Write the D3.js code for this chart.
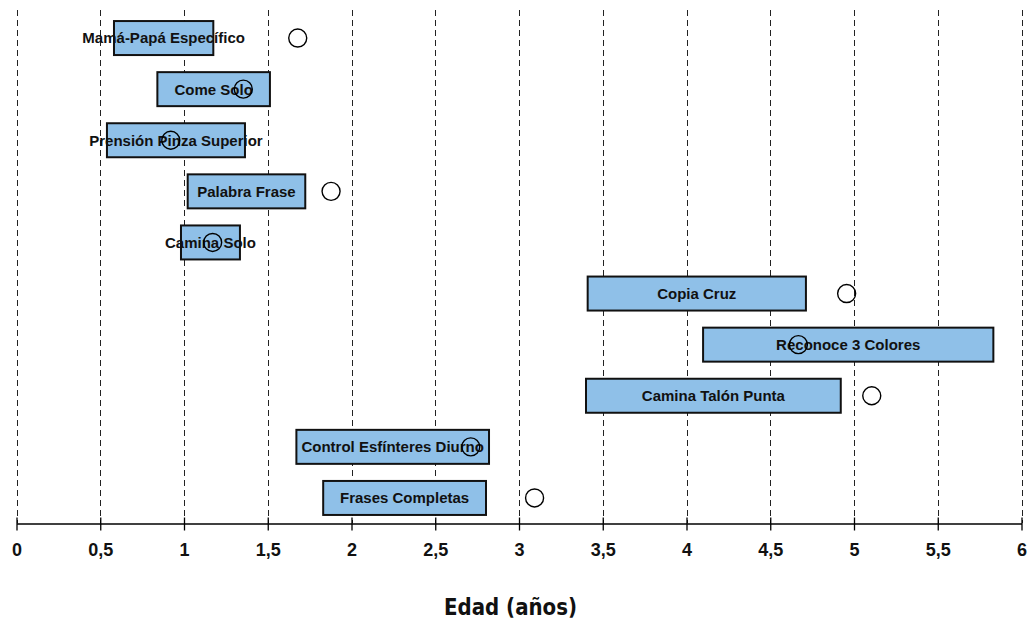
<!DOCTYPE html>
<html><head><meta charset="utf-8">
<script src="https://cdn.jsdelivr.net/npm/d3@7"></script>
<style>body{margin:0;background:#fff}svg{display:block}</style>
</head><body>
<svg id="c" width="1028" height="621"></svg>
<script>
const categories = ["Mamá-Papá Específico","Come Solo","Prensión Pinza Superior","Palabra Frase","Camina Solo","Copia Cruz","Reconoce 3 Colores","Camina Talón Punta","Control Esfínteres Diurno","Frases Completas"];
const startAge = [0.582,0.841,0.540,1.022,0.982,3.410,4.099,3.400,1.671,1.831];
const endAge   = [1.175,1.513,1.364,1.724,1.334,4.713,5.832,4.921,2.821,2.803];
const pointAge = [1.679,1.354,0.921,1.878,1.171,4.956,4.668,5.106,2.712,3.093];
const tickValues = [0,0.5,1,1.5,2,2.5,3,3.5,4,4.5,5,5.5,6];
const tickLabels = ["0","0,5","1","1,5","2","2,5","3","3,5","4","4,5","5","5,5","6"];
const xTitle = "Edad (años)";

const rows = categories.map((c,i)=>({c, s:startAge[i], e:endAge[i], p:pointAge[i]}));
const svg = d3.select("#c");
const x = d3.scaleLinear().domain([0,6]).range([16.5,1021.5]);
const y = d3.scaleBand().domain(categories).range([12.5,523.5]).padding(0);
const axisY = 523;

// gridlines
svg.append("g").selectAll("line").data(tickValues).join("line")
  .attr("x1",d=>Math.round(x(d))+0.5).attr("x2",d=>Math.round(x(d))+0.5)
  .attr("y1",10).attr("y2",axisY)
  .attr("stroke","#222").attr("stroke-width",1).attr("stroke-dasharray","6,4");

// axis
const axis = d3.axisBottom(x).tickValues(tickValues).tickFormat((d,i)=>tickLabels[i]).tickSize(6).tickPadding(14).tickSizeOuter(0);
const ag = svg.append("g").attr("transform",`translate(0,${axisY+0.5})`).call(axis);
ag.select(".domain").attr("stroke","#000").attr("stroke-width",1.3);
ag.selectAll(".tick line").attr("stroke","#000").attr("y1",-6).attr("y2",7).attr("stroke-width",1.3);
ag.selectAll(".tick text").attr("font-family","'Liberation Sans',Arial,sans-serif").attr("font-weight","bold").attr("font-size",18).attr("fill","#111");

// bars
const bh = 34;
svg.append("g").selectAll("rect").data(rows).join("rect")
  .attr("x",d=>x(d.s)).attr("width",d=>x(d.e)-x(d.s))
  .attr("y",d=>y(d.c)+y.bandwidth()/2-bh/2).attr("height",bh)
  .attr("fill","#8fc0e8").attr("stroke","#111").attr("stroke-width",2);

// labels
svg.append("g").selectAll("text").data(rows).join("text")
  .attr("x",d=>(x(d.s)+x(d.e))/2).attr("y",d=>y(d.c)+y.bandwidth()/2)
  .attr("dy","0.36em").attr("text-anchor","middle")
  .attr("font-family","'Liberation Sans',Arial,sans-serif").attr("font-weight","bold").attr("font-size",15)
  .attr("fill","#111").text(d=>d.c);

// points
svg.append("g").selectAll("circle").data(rows).join("circle")
  .attr("cx",d=>x(d.p)).attr("cy",d=>y(d.c)+y.bandwidth()/2).attr("r",9)
  .attr("fill","none").attr("stroke","#000").attr("stroke-width",1.4);

// title
svg.append("text").attr("x",510.5).attr("y",615).attr("text-anchor","middle")
  .attr("font-family","'Liberation Sans Narrow','DejaVu Sans Condensed','Liberation Sans',sans-serif")
  .attr("font-weight","bold").attr("font-size",23)
  .attr("textLength",133).attr("lengthAdjust","spacingAndGlyphs")
  .attr("fill","#111").text(xTitle);
</script>
</body></html>
